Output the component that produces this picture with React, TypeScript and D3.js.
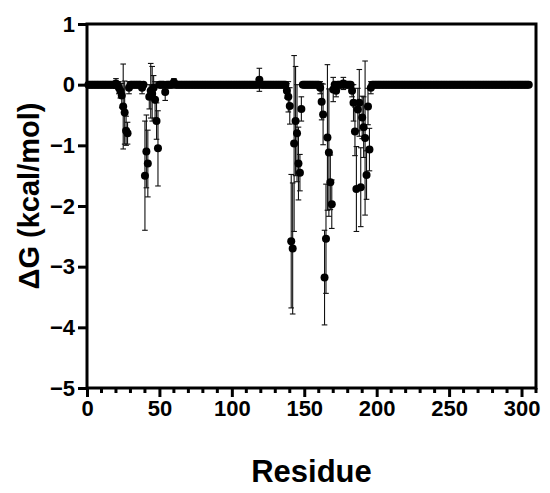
import React, { useEffect, useRef } from "react";
import * as d3 from "d3";

// every residue from first to last sits on the 0 line unless listed below
const firstResidue = 1;
const lastResidue = 305;

// residues with a visible ΔG (kcal/mol) and its error (±)
const hotResidues = [
  20, 22, 23, 24, 25, 26, 27, 28, 29,
  38, 40, 41, 42, 43, 44, 45, 46, 47, 48, 49, 54, 60,
  119,
  138, 139, 140, 141, 142, 143, 144, 145, 146, 147, 148,
  161, 162, 163, 164, 165, 166, 167, 168, 169, 170, 172, 177,
  183, 184, 185, 186, 187, 188, 189, 190, 191, 192, 193, 194, 195, 196,
];
const hotDeltaG = [
  0.02, -0.05, -0.1, -0.18, -0.36, -0.46, -0.76, -0.8, -0.05,
  -0.05, -1.5, -1.1, -1.3, -0.2, -0.1, -0.15, -0.05, -0.25, -0.6, -1.05, -0.12, 0.04,
  0.08,
  -0.1, -0.2, -0.35, -2.58, -2.7, -0.97, -0.6, -0.8, -1.3, -1.45, -0.4,
  -0.05, -0.28, -0.49, -3.18, -2.54, -0.87, -1.12, -1.61, -1.97, -0.08, -0.1, 0.02,
  -0.1, -0.3, -0.77, -1.72, -0.41, -0.3, -1.69, -0.54, -0.7, -0.88, -1.49, -0.36, -1.07, -0.05,
];
const hotError = [
  0.08, 0.1, 0.12, 0.2, 0.7, 0.52, 0.24, 0.18, 0.1,
  0.1, 0.9, 0.6, 0.55, 0.2, 0.45, 0.45, 0.2, 0.3, 0.3, 0.62, 0.14, 0.06,
  0.19,
  0.12, 0.25, 0.3, 1.1, 1.08, 1.45, 0.9, 0.8, 0.6, 0.3, 0.2,
  0.1, 0.3, 0.5, 0.78, 0.9, 1.2, 1.05, 0.45, 0.4, 0.2, 0.1, 0.1,
  0.1, 0.3, 0.4, 0.7, 0.35, 0.55, 0.65, 0.35, 0.5, 1.27, 0.4, 0.3, 0.35, 0.1,
];

const xTicks = [0, 50, 100, 150, 200, 250, 300];
const yTicks = [1, 0, -1, -2, -3, -4, -5];

const FONT = "'Liberation Sans', Arial, Helvetica, sans-serif";

const App: React.FC = () => {
  const svgRef = useRef<SVGSVGElement | null>(null);

  useEffect(() => {
    const svg = d3.select(svgRef.current);
    svg.selectAll("*").remove();

    const left = 87;
    const right = 536;
    const top = 24;
    const bottom = 388;

    const x = d3.scaleLinear().domain([0, 310]).range([left, right]);
    const y = d3.scaleLinear().domain([-5, 1]).range([bottom, top]);

    // build the rows: zero baseline + the residues
    const hot = new Map<number, { dg: number; err: number }>();
    hotResidues.forEach((r, i) => hot.set(r, { dg: hotDeltaG[i]!, err: hotError[i]! }));
    const rows = d3.range(firstResidue, lastResidue + 1).map((r) => {
      const h = hot.get(r);
      return { residue: r, dg: h ? h.dg : 0, err: h ? h.err : 0 };
    });

    // error bars
    const bars = svg
      .append("g")
      .attr("stroke", "#111")
      .attr("stroke-width", 1.1)
      .selectAll("g")
      .data(rows.filter((d) => d.err > 0))
      .enter()
      .append("g");
    bars
      .append("line")
      .attr("x1", (d) => x(d.residue))
      .attr("x2", (d) => x(d.residue))
      .attr("y1", (d) => y(d.dg + d.err))
      .attr("y2", (d) => y(d.dg - d.err));
    [1, -1].forEach((s) => {
      bars
        .append("line")
        .attr("x1", (d) => x(d.residue) - 2.8)
        .attr("x2", (d) => x(d.residue) + 2.8)
        .attr("y1", (d) => y(d.dg + s * d.err))
        .attr("y2", (d) => y(d.dg + s * d.err));
    });

    // points
    svg
      .append("g")
      .selectAll("circle")
      .data(rows)
      .enter()
      .append("circle")
      .attr("cx", (d) => x(d.residue))
      .attr("cy", (d) => y(d.dg))
      .attr("r", 4)
      .attr("fill", "#000");

    // frame
    svg
      .append("rect")
      .attr("x", left)
      .attr("y", top)
      .attr("width", right - left)
      .attr("height", bottom - top)
      .attr("fill", "none")
      .attr("stroke", "#000")
      .attr("stroke-width", 3);

    // y axis ticks + labels
    const yAxis = svg
      .append("g")
      .attr("transform", `translate(${left},0)`)
      .call(d3.axisLeft(y).tickValues(yTicks).tickSize(9).tickPadding(3).tickFormat(d3.format("d")));
    yAxis.select(".domain").remove();
    yAxis.selectAll("line").attr("stroke", "#000").attr("stroke-width", 3);
    yAxis
      .selectAll("text")
      .attr("font-family", FONT)
      .attr("font-weight", "bold")
      .attr("font-size", 22)
      .attr("fill", "#000");

    // x axis: minor ticks every 10, major every 50
    const minor = svg.append("g").attr("transform", `translate(0,${bottom})`);
    minor
      .selectAll("line")
      .data(x.ticks(31).filter((t) => t % 50 !== 0))
      .enter()
      .append("line")
      .attr("x1", (d) => x(d))
      .attr("x2", (d) => x(d))
      .attr("y1", 0)
      .attr("y2", 5)
      .attr("stroke", "#000")
      .attr("stroke-width", 3);

    const xAxis = svg
      .append("g")
      .attr("transform", `translate(0,${bottom})`)
      .call(d3.axisBottom(x).tickValues(xTicks).tickSize(9).tickPadding(3).tickFormat(d3.format("d")));
    xAxis.select(".domain").remove();
    xAxis.selectAll("line").attr("stroke", "#000").attr("stroke-width", 3);
    xAxis
      .selectAll("text")
      .attr("font-family", FONT)
      .attr("font-weight", "bold")
      .attr("font-size", 22)
      .attr("fill", "#000");

    // axis titles
    svg
      .append("text")
      .attr("x", (left + right) / 2)
      .attr("y", 482)
      .attr("text-anchor", "middle")
      .attr("font-family", FONT)
      .attr("font-weight", "bold")
      .attr("font-size", 31)
      .text("Residue");

    svg
      .append("text")
      .attr("transform", `translate(39,196) rotate(-90)`)
      .attr("text-anchor", "middle")
      .attr("font-family", FONT)
      .attr("font-weight", "bold")
      .attr("font-size", 29)
      .text("ΔG (kcal/mol)");
  }, []);

  return (
    <svg
      ref={svgRef}
      width={550}
      height={493}
      style={{ position: "absolute", left: 0, top: 0, background: "#fff" }}
    />
  );
};

export default App;
